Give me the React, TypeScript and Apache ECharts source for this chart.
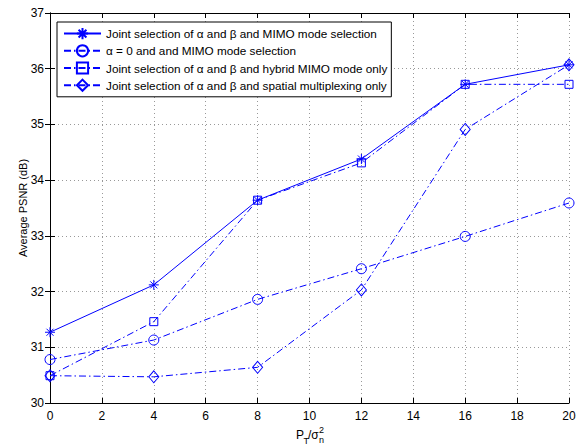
import React, { useEffect, useRef } from "react";
import * as echarts from "echarts";

const xValues = [0, 4, 8, 12, 16, 20];
const seriesNames = [
  "Joint selection of α and β and MIMO mode selection",
  "α = 0 and and MIMO mode selection",
  "Joint selection of α and β and hybrid MIMO mode only",
  "Joint selection of α and β and spatial multiplexing only",
];
const jointMimo = [31.27, 32.12, 33.64, 34.38, 35.72, 36.07];
const alphaZero = [30.78, 31.13, 31.86, 32.41, 32.99, 33.59];
const hybridOnly = [30.49, 31.46, 33.64, 34.31, 35.72, 35.72];
const spatialOnly = [30.49, 30.47, 30.64, 32.03, 34.91, 36.07];
const xTicks = [0, 2, 4, 6, 8, 10, 12, 14, 16, 18, 20];
const yTicks = [30, 31, 32, 33, 34, 35, 36, 37];

const BLUE = "#0000ff";
const FONT = "Liberation Sans";
const STAR =
  "path://M0,-5L0,5M-5,0L5,0M-3.5,-3.5L3.5,3.5M-3.5,3.5L3.5,-3.5";
const DASHDOT = [7, 3, 1.5, 3];

export default function App() {
  const ref = useRef<HTMLDivElement>(null);
  useEffect(() => {
    document.body.style.margin = "0";
    if (!ref.current) return;
    const chart = echarts.init(ref.current, undefined, { renderer: "svg" });
    const pair = (arr: number[]) => arr.map((v, i) => [xValues[i], v]);
    const mk = (
      name: string,
      data: number[],
      symbol: string,
      size: number | number[],
      dash: any
    ) => ({
      type: "line",
      name,
      data: pair(data),
      symbol,
      symbolSize: size,
      showAllSymbol: true,
      color: BLUE,
      lineStyle: { color: BLUE, width: 1, type: dash },
      itemStyle: { color: "rgba(0,0,0,0)", borderColor: BLUE, borderWidth: 1 },
      emphasis: { disabled: true },
      z: 3,
    });
    const axisCommon = {
      axisLine: { show: true, lineStyle: { color: "#000", width: 1 } },
      axisTick: { show: true, inside: true, length: 5, lineStyle: { color: "#000" } },
    };
    chart.setOption({
      animation: false,
      backgroundColor: "#fff",
      textStyle: { fontFamily: FONT },
      grid: { left: 50, right: 12, top: 13, bottom: 42 },
      legend: {
        orient: "vertical",
        left: 57,
        top: 22,
        padding: [5, 4, 5, 6],
        itemGap: 4,
        itemWidth: 37,
        itemHeight: 14,
        borderColor: "#000",
        borderWidth: 1,
        backgroundColor: "#fff",
        textStyle: { fontFamily: FONT, fontSize: 11.75, color: "#000" },
        data: seriesNames,
      },
      xAxis: [
        {
          type: "value",
          min: 0,
          max: 20,
          interval: 2,
          ...axisCommon,
          axisLabel: {
            margin: 7,
            fontSize: 12,
            color: "#000",
            fontFamily: FONT,
            formatter: (v: number) => (xTicks.includes(v) ? String(v) : ""),
          },
          splitLine: { show: true, lineStyle: { color: "#999", type: [1, 3] } },
        },
        {
          type: "value",
          position: "top",
          min: 0,
          max: 20,
          interval: 2,
          ...axisCommon,
          axisLabel: { show: false },
          splitLine: { show: false },
        },
      ],
      yAxis: [
        {
          type: "value",
          min: 30,
          max: 37,
          interval: 1,
          ...axisCommon,
          name: "Average PSNR (dB)",
          nameLocation: "middle",
          nameGap: 22,
          nameMoveOverlap: false,
          nameTextStyle: { fontSize: 11, color: "#000", fontFamily: FONT },
          axisLabel: {
            margin: 6,
            fontSize: 12,
            color: "#000",
            fontFamily: FONT,
            formatter: (v: number) => (yTicks.includes(v) ? String(v) : ""),
          },
          splitLine: { show: true, lineStyle: { color: "#999", type: [1, 3] } },
        },
        {
          type: "value",
          position: "right",
          min: 30,
          max: 37,
          interval: 1,
          ...axisCommon,
          axisLabel: { show: false },
          splitLine: { show: false },
        },
      ],
      graphic: [
        {
          type: "group",
          left: 296,
          top: 425,
          children: [
            { type: "text", x: 0, y: 4, style: { text: "P", font: `12px "${FONT}"`, fill: "#000" } },
            { type: "text", x: 7.5, y: 11, style: { text: "T", font: `9px "${FONT}"`, fill: "#000" } },
            { type: "text", x: 12, y: 4, style: { text: "/σ", font: `12px "${FONT}"`, fill: "#000" } },
            { type: "text", x: 23, y: 0, style: { text: "2", font: `9px "${FONT}"`, fill: "#000" } },
            { type: "text", x: 23, y: 10, style: { text: "n", font: `9px "${FONT}"`, fill: "#000" } },
          ],
        },
      ],
      series: [
        mk(seriesNames[0], jointMimo, STAR, 10, "solid"),
        mk(seriesNames[1], alphaZero, "circle", 10, DASHDOT),
        mk(seriesNames[2], hybridOnly, "rect", 8, DASHDOT),
        mk(seriesNames[3], spatialOnly, "diamond", [10, 12], DASHDOT),
      ],
    });
    return () => chart.dispose();
  }, []);
  return <div ref={ref} style={{ width: 581, height: 445 }} />;
}
